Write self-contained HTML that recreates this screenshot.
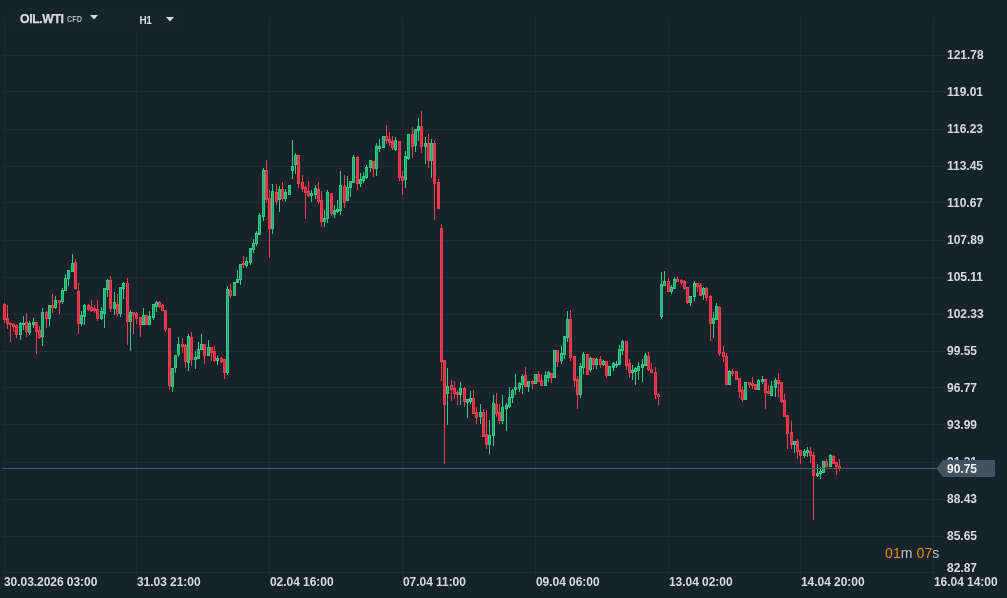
<!DOCTYPE html>
<html><head><meta charset="utf-8"><title>OIL.WTI</title>
<style>
html,body{margin:0;padding:0;background:#17232a;}
body{width:1007px;height:598px;overflow:hidden;position:relative;font-family:"Liberation Sans",sans-serif;}
svg{position:absolute;left:0;top:0;display:block}
.t{position:absolute;color:#d9dcde;font-weight:bold;font-size:12px;line-height:14px;white-space:nowrap;letter-spacing:-0.05px}
.p{left:947px;letter-spacing:0}
#L{position:absolute;left:0;top:0;width:1007px;height:598px;will-change:transform;opacity:0.999}
</style></head><body>
<svg width="1007" height="598" viewBox="0 0 1007 598" shape-rendering="crispEdges">
<rect width="1007" height="598" fill="#17232a"/>
<g fill="#202c33"><rect x="2" y="55" width="943" height="1"/><rect x="2" y="91" width="943" height="1"/><rect x="2" y="129" width="943" height="1"/><rect x="2" y="166" width="943" height="1"/><rect x="2" y="202" width="943" height="1"/><rect x="2" y="240" width="943" height="1"/><rect x="2" y="277" width="943" height="1"/><rect x="2" y="314" width="943" height="1"/><rect x="2" y="351" width="943" height="1"/><rect x="2" y="387" width="943" height="1"/><rect x="2" y="424" width="943" height="1"/><rect x="2" y="462" width="943" height="1"/><rect x="2" y="499" width="943" height="1"/><rect x="2" y="536" width="943" height="1"/><rect x="4" y="18" width="1" height="558"/><rect x="136" y="18" width="1" height="558"/><rect x="269" y="18" width="1" height="558"/><rect x="402" y="18" width="1" height="558"/><rect x="535" y="18" width="1" height="558"/><rect x="668" y="18" width="1" height="558"/><rect x="800" y="18" width="1" height="558"/><rect x="933" y="18" width="1" height="558"/><rect x="2" y="572" width="937" height="1"/></g>
<rect x="8" y="8" width="177" height="24" fill="#18242b"/>
<g fill="#2eca86"><rect x="19" y="323" width="3" height="12"/><rect x="20" y="322" width="1" height="18"/><rect x="22" y="323" width="3" height="2"/><rect x="23" y="316" width="1" height="14"/><rect x="28" y="323" width="3" height="10"/><rect x="29" y="321" width="1" height="14"/><rect x="32" y="322" width="3" height="3"/><rect x="33" y="318" width="1" height="10"/><rect x="41" y="312" width="3" height="25"/><rect x="42" y="308" width="1" height="38"/><rect x="48" y="305" width="3" height="14"/><rect x="49" y="305" width="1" height="21"/><rect x="54" y="300" width="3" height="8"/><rect x="55" y="296" width="1" height="13"/><rect x="61" y="290" width="3" height="12"/><rect x="62" y="288" width="1" height="16"/><rect x="64" y="278" width="3" height="13"/><rect x="65" y="274" width="1" height="17"/><rect x="67" y="270" width="3" height="9"/><rect x="68" y="270" width="1" height="16"/><rect x="71" y="263" width="3" height="9"/><rect x="72" y="254" width="1" height="18"/><rect x="80" y="315" width="3" height="9"/><rect x="81" y="311" width="1" height="15"/><rect x="83" y="305" width="3" height="12"/><rect x="84" y="304" width="1" height="21"/><rect x="100" y="311" width="3" height="8"/><rect x="101" y="307" width="1" height="13"/><rect x="103" y="288" width="3" height="26"/><rect x="104" y="288" width="1" height="40"/><rect x="106" y="280" width="3" height="10"/><rect x="107" y="279" width="1" height="18"/><rect x="113" y="302" width="3" height="7"/><rect x="114" y="292" width="1" height="23"/><rect x="119" y="287" width="3" height="27"/><rect x="120" y="287" width="1" height="30"/><rect x="122" y="283" width="3" height="6"/><rect x="123" y="282" width="1" height="17"/><rect x="129" y="312" width="3" height="10"/><rect x="130" y="310" width="1" height="41"/><rect x="142" y="315" width="3" height="10"/><rect x="143" y="308" width="1" height="17"/><rect x="148" y="316" width="3" height="9"/><rect x="149" y="311" width="1" height="14"/><rect x="152" y="304" width="3" height="14"/><rect x="153" y="304" width="1" height="16"/><rect x="155" y="302" width="3" height="5"/><rect x="156" y="301" width="1" height="11"/><rect x="171" y="368" width="3" height="19"/><rect x="172" y="368" width="1" height="24"/><rect x="174" y="355" width="3" height="13"/><rect x="175" y="355" width="1" height="18"/><rect x="177" y="344" width="3" height="11"/><rect x="178" y="337" width="1" height="20"/><rect x="187" y="336" width="3" height="27"/><rect x="188" y="334" width="1" height="37"/><rect x="194" y="357" width="3" height="3"/><rect x="195" y="351" width="1" height="18"/><rect x="197" y="349" width="3" height="10"/><rect x="198" y="342" width="1" height="17"/><rect x="200" y="344" width="3" height="6"/><rect x="201" y="334" width="1" height="16"/><rect x="207" y="347" width="3" height="9"/><rect x="208" y="340" width="1" height="16"/><rect x="216" y="358" width="3" height="3"/><rect x="217" y="356" width="1" height="9"/><rect x="226" y="289" width="3" height="84"/><rect x="227" y="286" width="1" height="89"/><rect x="233" y="282" width="3" height="14"/><rect x="234" y="282" width="1" height="14"/><rect x="236" y="279" width="3" height="4"/><rect x="237" y="270" width="1" height="13"/><rect x="239" y="264" width="3" height="16"/><rect x="240" y="264" width="1" height="21"/><rect x="245" y="261" width="3" height="5"/><rect x="246" y="257" width="1" height="11"/><rect x="249" y="248" width="3" height="15"/><rect x="250" y="248" width="1" height="17"/><rect x="252" y="243" width="3" height="7"/><rect x="253" y="239" width="1" height="14"/><rect x="255" y="233" width="3" height="11"/><rect x="256" y="231" width="1" height="15"/><rect x="258" y="215" width="3" height="20"/><rect x="259" y="213" width="1" height="22"/><rect x="262" y="170" width="3" height="47"/><rect x="263" y="168" width="1" height="53"/><rect x="271" y="191" width="3" height="38"/><rect x="272" y="184" width="1" height="50"/><rect x="278" y="189" width="3" height="11"/><rect x="279" y="186" width="1" height="26"/><rect x="284" y="192" width="3" height="7"/><rect x="285" y="189" width="1" height="13"/><rect x="288" y="185" width="3" height="10"/><rect x="289" y="185" width="1" height="10"/><rect x="291" y="166" width="3" height="5"/><rect x="292" y="140" width="1" height="39"/><rect x="294" y="155" width="3" height="10"/><rect x="295" y="153" width="1" height="21"/><rect x="310" y="193" width="3" height="3"/><rect x="311" y="190" width="1" height="12"/><rect x="314" y="188" width="3" height="7"/><rect x="315" y="185" width="1" height="14"/><rect x="323" y="218" width="3" height="4"/><rect x="324" y="210" width="1" height="17"/><rect x="326" y="192" width="3" height="27"/><rect x="327" y="190" width="1" height="33"/><rect x="333" y="210" width="3" height="5"/><rect x="334" y="205" width="1" height="13"/><rect x="336" y="209" width="3" height="3"/><rect x="337" y="200" width="1" height="13"/><rect x="339" y="185" width="3" height="26"/><rect x="340" y="171" width="1" height="44"/><rect x="346" y="187" width="3" height="14"/><rect x="347" y="176" width="1" height="25"/><rect x="349" y="181" width="3" height="7"/><rect x="350" y="181" width="1" height="16"/><rect x="352" y="157" width="3" height="26"/><rect x="353" y="155" width="1" height="28"/><rect x="359" y="179" width="3" height="5"/><rect x="360" y="173" width="1" height="14"/><rect x="362" y="176" width="3" height="5"/><rect x="363" y="172" width="1" height="11"/><rect x="365" y="167" width="3" height="11"/><rect x="366" y="165" width="1" height="14"/><rect x="369" y="160" width="3" height="8"/><rect x="370" y="160" width="1" height="12"/><rect x="375" y="146" width="3" height="23"/><rect x="376" y="143" width="1" height="33"/><rect x="378" y="146" width="3" height="3"/><rect x="379" y="139" width="1" height="13"/><rect x="382" y="136" width="3" height="12"/><rect x="383" y="136" width="1" height="12"/><rect x="394" y="140" width="3" height="10"/><rect x="395" y="137" width="1" height="14"/><rect x="404" y="156" width="3" height="24"/><rect x="405" y="151" width="1" height="37"/><rect x="407" y="134" width="3" height="25"/><rect x="408" y="134" width="1" height="26"/><rect x="414" y="129" width="3" height="17"/><rect x="415" y="129" width="1" height="23"/><rect x="417" y="126" width="3" height="5"/><rect x="418" y="118" width="1" height="23"/><rect x="424" y="143" width="3" height="4"/><rect x="425" y="137" width="1" height="27"/><rect x="430" y="143" width="3" height="18"/><rect x="431" y="139" width="1" height="39"/><rect x="446" y="386" width="3" height="8"/><rect x="447" y="368" width="1" height="57"/><rect x="459" y="388" width="3" height="7"/><rect x="460" y="382" width="1" height="23"/><rect x="466" y="399" width="3" height="4"/><rect x="467" y="399" width="1" height="19"/><rect x="469" y="398" width="3" height="4"/><rect x="470" y="391" width="1" height="13"/><rect x="479" y="412" width="3" height="5"/><rect x="480" y="404" width="1" height="20"/><rect x="488" y="435" width="3" height="10"/><rect x="489" y="420" width="1" height="34"/><rect x="492" y="403" width="3" height="33"/><rect x="493" y="395" width="1" height="51"/><rect x="501" y="407" width="3" height="14"/><rect x="502" y="395" width="1" height="29"/><rect x="505" y="405" width="3" height="4"/><rect x="506" y="403" width="1" height="28"/><rect x="508" y="397" width="3" height="10"/><rect x="509" y="387" width="1" height="21"/><rect x="511" y="390" width="3" height="8"/><rect x="512" y="389" width="1" height="14"/><rect x="514" y="387" width="3" height="3"/><rect x="515" y="374" width="1" height="21"/><rect x="518" y="383" width="3" height="6"/><rect x="519" y="382" width="1" height="10"/><rect x="521" y="376" width="3" height="9"/><rect x="522" y="374" width="1" height="20"/><rect x="527" y="381" width="3" height="6"/><rect x="528" y="381" width="1" height="11"/><rect x="534" y="374" width="3" height="10"/><rect x="535" y="374" width="1" height="10"/><rect x="544" y="375" width="3" height="11"/><rect x="545" y="371" width="1" height="15"/><rect x="547" y="372" width="3" height="6"/><rect x="548" y="371" width="1" height="11"/><rect x="553" y="350" width="3" height="28"/><rect x="554" y="350" width="1" height="28"/><rect x="560" y="353" width="3" height="8"/><rect x="561" y="346" width="1" height="18"/><rect x="563" y="336" width="3" height="19"/><rect x="564" y="336" width="1" height="23"/><rect x="566" y="319" width="3" height="19"/><rect x="567" y="311" width="1" height="31"/><rect x="579" y="366" width="3" height="29"/><rect x="580" y="363" width="1" height="35"/><rect x="582" y="354" width="3" height="14"/><rect x="583" y="352" width="1" height="22"/><rect x="589" y="358" width="3" height="12"/><rect x="590" y="357" width="1" height="15"/><rect x="595" y="359" width="3" height="6"/><rect x="596" y="358" width="1" height="11"/><rect x="602" y="361" width="3" height="4"/><rect x="603" y="360" width="1" height="6"/><rect x="608" y="366" width="3" height="10"/><rect x="609" y="366" width="1" height="10"/><rect x="612" y="363" width="3" height="5"/><rect x="613" y="362" width="1" height="9"/><rect x="615" y="364" width="3" height="2"/><rect x="616" y="361" width="1" height="7"/><rect x="618" y="349" width="3" height="16"/><rect x="619" y="345" width="1" height="20"/><rect x="621" y="341" width="3" height="10"/><rect x="622" y="340" width="1" height="15"/><rect x="631" y="370" width="3" height="3"/><rect x="632" y="365" width="1" height="15"/><rect x="634" y="368" width="3" height="4"/><rect x="635" y="367" width="1" height="18"/><rect x="637" y="366" width="3" height="5"/><rect x="638" y="362" width="1" height="18"/><rect x="641" y="364" width="3" height="4"/><rect x="642" y="359" width="1" height="23"/><rect x="644" y="355" width="3" height="11"/><rect x="645" y="353" width="1" height="13"/><rect x="660" y="284" width="3" height="33"/><rect x="661" y="272" width="1" height="47"/><rect x="663" y="281" width="3" height="5"/><rect x="664" y="271" width="1" height="15"/><rect x="670" y="287" width="3" height="5"/><rect x="671" y="285" width="1" height="9"/><rect x="673" y="279" width="3" height="10"/><rect x="674" y="277" width="1" height="12"/><rect x="689" y="296" width="3" height="7"/><rect x="690" y="296" width="1" height="10"/><rect x="693" y="283" width="3" height="14"/><rect x="694" y="281" width="1" height="20"/><rect x="702" y="288" width="3" height="7"/><rect x="703" y="287" width="1" height="13"/><rect x="712" y="318" width="3" height="6"/><rect x="713" y="312" width="1" height="26"/><rect x="715" y="306" width="3" height="14"/><rect x="716" y="303" width="1" height="17"/><rect x="728" y="371" width="3" height="14"/><rect x="729" y="370" width="1" height="15"/><rect x="744" y="382" width="3" height="18"/><rect x="745" y="382" width="1" height="18"/><rect x="757" y="380" width="3" height="10"/><rect x="758" y="379" width="1" height="11"/><rect x="761" y="379" width="3" height="3"/><rect x="762" y="376" width="1" height="8"/><rect x="770" y="386" width="3" height="10"/><rect x="771" y="381" width="1" height="15"/><rect x="774" y="380" width="3" height="8"/><rect x="775" y="378" width="1" height="19"/><rect x="793" y="441" width="3" height="4"/><rect x="794" y="441" width="1" height="12"/><rect x="803" y="451" width="3" height="5"/><rect x="804" y="449" width="1" height="9"/><rect x="806" y="450" width="3" height="3"/><rect x="807" y="447" width="1" height="10"/><rect x="816" y="473" width="3" height="3"/><rect x="817" y="464" width="1" height="13"/><rect x="819" y="471" width="3" height="3"/><rect x="820" y="467" width="1" height="12"/><rect x="822" y="461" width="3" height="12"/><rect x="823" y="461" width="1" height="12"/><rect x="829" y="455" width="3" height="12"/><rect x="830" y="454" width="1" height="13"/></g>
<g fill="#fb3a4e"><rect x="3" y="304" width="3" height="16"/><rect x="4" y="303" width="1" height="20"/><rect x="6" y="318" width="3" height="6"/><rect x="7" y="305" width="1" height="24"/><rect x="9" y="323" width="3" height="2"/><rect x="10" y="322" width="1" height="20"/><rect x="12" y="324" width="3" height="3"/><rect x="13" y="323" width="1" height="9"/><rect x="15" y="325" width="3" height="10"/><rect x="16" y="324" width="1" height="14"/><rect x="25" y="322" width="3" height="10"/><rect x="26" y="313" width="1" height="24"/><rect x="35" y="322" width="3" height="10"/><rect x="36" y="322" width="1" height="32"/><rect x="38" y="330" width="3" height="8"/><rect x="39" y="326" width="1" height="13"/><rect x="45" y="312" width="3" height="7"/><rect x="46" y="311" width="1" height="17"/><rect x="51" y="305" width="3" height="3"/><rect x="52" y="294" width="1" height="19"/><rect x="58" y="300" width="3" height="3"/><rect x="59" y="300" width="1" height="14"/><rect x="74" y="262" width="3" height="27"/><rect x="75" y="259" width="1" height="31"/><rect x="77" y="291" width="3" height="33"/><rect x="78" y="283" width="1" height="51"/><rect x="87" y="305" width="3" height="5"/><rect x="88" y="304" width="1" height="7"/><rect x="90" y="307" width="3" height="4"/><rect x="91" y="300" width="1" height="12"/><rect x="93" y="308" width="3" height="3"/><rect x="94" y="305" width="1" height="8"/><rect x="96" y="309" width="3" height="10"/><rect x="97" y="300" width="1" height="21"/><rect x="109" y="280" width="3" height="29"/><rect x="110" y="276" width="1" height="36"/><rect x="116" y="304" width="3" height="10"/><rect x="117" y="294" width="1" height="22"/><rect x="126" y="283" width="3" height="39"/><rect x="127" y="278" width="1" height="67"/><rect x="132" y="312" width="3" height="3"/><rect x="133" y="312" width="1" height="22"/><rect x="135" y="313" width="3" height="6"/><rect x="136" y="312" width="1" height="12"/><rect x="139" y="317" width="3" height="8"/><rect x="140" y="317" width="1" height="20"/><rect x="145" y="315" width="3" height="10"/><rect x="146" y="315" width="1" height="10"/><rect x="158" y="302" width="3" height="5"/><rect x="159" y="301" width="1" height="7"/><rect x="161" y="305" width="3" height="6"/><rect x="162" y="304" width="1" height="7"/><rect x="164" y="310" width="3" height="20"/><rect x="165" y="310" width="1" height="22"/><rect x="168" y="328" width="3" height="58"/><rect x="169" y="328" width="1" height="62"/><rect x="181" y="344" width="3" height="3"/><rect x="182" y="338" width="1" height="15"/><rect x="184" y="345" width="3" height="17"/><rect x="185" y="344" width="1" height="24"/><rect x="190" y="337" width="3" height="23"/><rect x="191" y="332" width="1" height="34"/><rect x="203" y="344" width="3" height="12"/><rect x="204" y="344" width="1" height="20"/><rect x="210" y="347" width="3" height="6"/><rect x="211" y="347" width="1" height="14"/><rect x="213" y="351" width="3" height="10"/><rect x="214" y="346" width="1" height="16"/><rect x="220" y="358" width="3" height="4"/><rect x="221" y="357" width="1" height="6"/><rect x="223" y="359" width="3" height="14"/><rect x="224" y="359" width="1" height="20"/><rect x="229" y="290" width="3" height="6"/><rect x="230" y="284" width="1" height="14"/><rect x="242" y="263" width="3" height="2"/><rect x="243" y="256" width="1" height="12"/><rect x="265" y="170" width="3" height="30"/><rect x="266" y="160" width="1" height="43"/><rect x="268" y="198" width="3" height="31"/><rect x="269" y="190" width="1" height="68"/><rect x="275" y="192" width="3" height="10"/><rect x="276" y="184" width="1" height="21"/><rect x="281" y="189" width="3" height="10"/><rect x="282" y="182" width="1" height="19"/><rect x="297" y="155" width="3" height="29"/><rect x="298" y="155" width="1" height="33"/><rect x="301" y="182" width="3" height="7"/><rect x="302" y="175" width="1" height="17"/><rect x="304" y="187" width="3" height="6"/><rect x="305" y="186" width="1" height="33"/><rect x="307" y="191" width="3" height="5"/><rect x="308" y="181" width="1" height="16"/><rect x="317" y="189" width="3" height="13"/><rect x="318" y="182" width="1" height="22"/><rect x="320" y="200" width="3" height="22"/><rect x="321" y="191" width="1" height="36"/><rect x="330" y="193" width="3" height="21"/><rect x="331" y="193" width="1" height="23"/><rect x="343" y="186" width="3" height="17"/><rect x="344" y="175" width="1" height="33"/><rect x="356" y="157" width="3" height="27"/><rect x="357" y="156" width="1" height="34"/><rect x="372" y="161" width="3" height="8"/><rect x="373" y="161" width="1" height="16"/><rect x="385" y="136" width="3" height="5"/><rect x="386" y="125" width="1" height="19"/><rect x="388" y="139" width="3" height="4"/><rect x="389" y="132" width="1" height="14"/><rect x="391" y="141" width="3" height="7"/><rect x="392" y="136" width="1" height="14"/><rect x="398" y="141" width="3" height="37"/><rect x="399" y="141" width="1" height="40"/><rect x="401" y="176" width="3" height="5"/><rect x="402" y="171" width="1" height="24"/><rect x="411" y="134" width="3" height="13"/><rect x="412" y="127" width="1" height="31"/><rect x="420" y="126" width="3" height="21"/><rect x="421" y="111" width="1" height="42"/><rect x="427" y="143" width="3" height="18"/><rect x="428" y="134" width="1" height="34"/><rect x="433" y="143" width="3" height="41"/><rect x="434" y="141" width="1" height="79"/><rect x="437" y="182" width="3" height="27"/><rect x="438" y="179" width="1" height="30"/><rect x="440" y="228" width="3" height="134"/><rect x="441" y="224" width="1" height="157"/><rect x="443" y="360" width="3" height="45"/><rect x="444" y="360" width="1" height="104"/><rect x="450" y="385" width="3" height="5"/><rect x="451" y="380" width="1" height="21"/><rect x="453" y="388" width="3" height="6"/><rect x="454" y="381" width="1" height="18"/><rect x="456" y="392" width="3" height="3"/><rect x="457" y="390" width="1" height="15"/><rect x="463" y="388" width="3" height="14"/><rect x="464" y="387" width="1" height="20"/><rect x="472" y="398" width="3" height="16"/><rect x="473" y="390" width="1" height="24"/><rect x="475" y="412" width="3" height="6"/><rect x="476" y="407" width="1" height="17"/><rect x="482" y="412" width="3" height="25"/><rect x="483" y="409" width="1" height="28"/><rect x="485" y="434" width="3" height="11"/><rect x="486" y="410" width="1" height="39"/><rect x="495" y="404" width="3" height="10"/><rect x="496" y="393" width="1" height="24"/><rect x="498" y="412" width="3" height="9"/><rect x="499" y="404" width="1" height="20"/><rect x="524" y="375" width="3" height="12"/><rect x="525" y="367" width="1" height="20"/><rect x="531" y="381" width="3" height="3"/><rect x="532" y="380" width="1" height="9"/><rect x="537" y="374" width="3" height="8"/><rect x="538" y="371" width="1" height="11"/><rect x="540" y="380" width="3" height="6"/><rect x="541" y="374" width="1" height="12"/><rect x="550" y="373" width="3" height="5"/><rect x="551" y="373" width="1" height="10"/><rect x="556" y="350" width="3" height="12"/><rect x="557" y="350" width="1" height="17"/><rect x="569" y="319" width="3" height="39"/><rect x="570" y="310" width="1" height="51"/><rect x="573" y="356" width="3" height="25"/><rect x="574" y="356" width="1" height="31"/><rect x="576" y="379" width="3" height="16"/><rect x="577" y="376" width="1" height="33"/><rect x="586" y="354" width="3" height="21"/><rect x="587" y="354" width="1" height="21"/><rect x="592" y="358" width="3" height="7"/><rect x="593" y="358" width="1" height="11"/><rect x="599" y="359" width="3" height="6"/><rect x="600" y="356" width="1" height="12"/><rect x="605" y="361" width="3" height="15"/><rect x="606" y="361" width="1" height="17"/><rect x="625" y="341" width="3" height="25"/><rect x="626" y="341" width="1" height="29"/><rect x="628" y="363" width="3" height="10"/><rect x="629" y="359" width="1" height="19"/><rect x="647" y="356" width="3" height="14"/><rect x="648" y="352" width="1" height="19"/><rect x="650" y="369" width="3" height="4"/><rect x="651" y="363" width="1" height="10"/><rect x="654" y="372" width="3" height="23"/><rect x="655" y="367" width="1" height="32"/><rect x="657" y="394" width="3" height="3"/><rect x="658" y="393" width="1" height="12"/><rect x="667" y="281" width="3" height="11"/><rect x="668" y="278" width="1" height="14"/><rect x="676" y="279" width="3" height="3"/><rect x="677" y="276" width="1" height="6"/><rect x="680" y="280" width="3" height="3"/><rect x="681" y="279" width="1" height="6"/><rect x="683" y="281" width="3" height="8"/><rect x="684" y="280" width="1" height="10"/><rect x="686" y="287" width="3" height="16"/><rect x="687" y="287" width="1" height="17"/><rect x="696" y="283" width="3" height="4"/><rect x="697" y="283" width="1" height="9"/><rect x="699" y="285" width="3" height="11"/><rect x="700" y="283" width="1" height="13"/><rect x="705" y="288" width="3" height="10"/><rect x="706" y="287" width="1" height="14"/><rect x="709" y="296" width="3" height="28"/><rect x="710" y="295" width="1" height="46"/><rect x="718" y="307" width="3" height="47"/><rect x="719" y="306" width="1" height="50"/><rect x="722" y="352" width="3" height="5"/><rect x="723" y="346" width="1" height="16"/><rect x="725" y="356" width="3" height="29"/><rect x="726" y="353" width="1" height="32"/><rect x="731" y="371" width="3" height="3"/><rect x="732" y="369" width="1" height="7"/><rect x="735" y="371" width="3" height="9"/><rect x="736" y="371" width="1" height="9"/><rect x="738" y="378" width="3" height="14"/><rect x="739" y="378" width="1" height="20"/><rect x="741" y="390" width="3" height="10"/><rect x="742" y="386" width="1" height="16"/><rect x="748" y="382" width="3" height="3"/><rect x="749" y="382" width="1" height="6"/><rect x="751" y="383" width="3" height="3"/><rect x="752" y="377" width="1" height="12"/><rect x="754" y="384" width="3" height="6"/><rect x="755" y="384" width="1" height="6"/><rect x="764" y="379" width="3" height="14"/><rect x="765" y="379" width="1" height="30"/><rect x="767" y="391" width="3" height="3"/><rect x="768" y="385" width="1" height="9"/><rect x="777" y="380" width="3" height="4"/><rect x="778" y="373" width="1" height="24"/><rect x="780" y="382" width="3" height="20"/><rect x="781" y="382" width="1" height="21"/><rect x="783" y="400" width="3" height="17"/><rect x="784" y="394" width="1" height="23"/><rect x="786" y="415" width="3" height="19"/><rect x="787" y="415" width="1" height="34"/><rect x="790" y="432" width="3" height="13"/><rect x="791" y="421" width="1" height="28"/><rect x="796" y="441" width="3" height="11"/><rect x="797" y="439" width="1" height="20"/><rect x="799" y="450" width="3" height="6"/><rect x="800" y="450" width="1" height="14"/><rect x="809" y="451" width="3" height="5"/><rect x="810" y="447" width="1" height="16"/><rect x="812" y="455" width="3" height="21"/><rect x="813" y="452" width="1" height="68"/><rect x="825" y="461" width="3" height="6"/><rect x="826" y="459" width="1" height="8"/><rect x="832" y="456" width="3" height="8"/><rect x="833" y="455" width="1" height="9"/><rect x="835" y="462" width="3" height="5"/><rect x="836" y="462" width="1" height="13"/><rect x="838" y="466" width="3" height="2"/><rect x="839" y="459" width="1" height="12"/></g>
<g fill="#25a56e"><rect x="20" y="324" width="1" height="10"/><rect x="29" y="324" width="1" height="8"/><rect x="33" y="323" width="1" height="1"/><rect x="42" y="313" width="1" height="23"/><rect x="49" y="306" width="1" height="12"/><rect x="55" y="301" width="1" height="6"/><rect x="62" y="291" width="1" height="10"/><rect x="65" y="279" width="1" height="11"/><rect x="68" y="271" width="1" height="7"/><rect x="72" y="264" width="1" height="7"/><rect x="81" y="316" width="1" height="7"/><rect x="84" y="306" width="1" height="10"/><rect x="101" y="312" width="1" height="6"/><rect x="104" y="289" width="1" height="24"/><rect x="107" y="281" width="1" height="8"/><rect x="114" y="303" width="1" height="5"/><rect x="120" y="288" width="1" height="25"/><rect x="123" y="284" width="1" height="4"/><rect x="130" y="313" width="1" height="8"/><rect x="143" y="316" width="1" height="8"/><rect x="149" y="317" width="1" height="7"/><rect x="153" y="305" width="1" height="12"/><rect x="156" y="303" width="1" height="3"/><rect x="172" y="369" width="1" height="17"/><rect x="175" y="356" width="1" height="11"/><rect x="178" y="345" width="1" height="9"/><rect x="188" y="337" width="1" height="25"/><rect x="195" y="358" width="1" height="1"/><rect x="198" y="350" width="1" height="8"/><rect x="201" y="345" width="1" height="4"/><rect x="208" y="348" width="1" height="7"/><rect x="217" y="359" width="1" height="1"/><rect x="227" y="290" width="1" height="82"/><rect x="234" y="283" width="1" height="12"/><rect x="237" y="280" width="1" height="2"/><rect x="240" y="265" width="1" height="14"/><rect x="246" y="262" width="1" height="3"/><rect x="250" y="249" width="1" height="13"/><rect x="253" y="244" width="1" height="5"/><rect x="256" y="234" width="1" height="9"/><rect x="259" y="216" width="1" height="18"/><rect x="263" y="171" width="1" height="45"/><rect x="272" y="192" width="1" height="36"/><rect x="279" y="190" width="1" height="9"/><rect x="285" y="193" width="1" height="5"/><rect x="289" y="186" width="1" height="8"/><rect x="292" y="167" width="1" height="3"/><rect x="295" y="156" width="1" height="8"/><rect x="311" y="194" width="1" height="1"/><rect x="315" y="189" width="1" height="5"/><rect x="324" y="219" width="1" height="2"/><rect x="327" y="193" width="1" height="25"/><rect x="334" y="211" width="1" height="3"/><rect x="337" y="210" width="1" height="1"/><rect x="340" y="186" width="1" height="24"/><rect x="347" y="188" width="1" height="12"/><rect x="350" y="182" width="1" height="5"/><rect x="353" y="158" width="1" height="24"/><rect x="360" y="180" width="1" height="3"/><rect x="363" y="177" width="1" height="3"/><rect x="366" y="168" width="1" height="9"/><rect x="370" y="161" width="1" height="6"/><rect x="376" y="147" width="1" height="21"/><rect x="379" y="147" width="1" height="1"/><rect x="383" y="137" width="1" height="10"/><rect x="395" y="141" width="1" height="8"/><rect x="405" y="157" width="1" height="22"/><rect x="408" y="135" width="1" height="23"/><rect x="415" y="130" width="1" height="15"/><rect x="418" y="127" width="1" height="3"/><rect x="425" y="144" width="1" height="2"/><rect x="431" y="144" width="1" height="16"/><rect x="447" y="387" width="1" height="6"/><rect x="460" y="389" width="1" height="5"/><rect x="467" y="400" width="1" height="2"/><rect x="470" y="399" width="1" height="2"/><rect x="480" y="413" width="1" height="3"/><rect x="489" y="436" width="1" height="8"/><rect x="493" y="404" width="1" height="31"/><rect x="502" y="408" width="1" height="12"/><rect x="506" y="406" width="1" height="2"/><rect x="509" y="398" width="1" height="8"/><rect x="512" y="391" width="1" height="6"/><rect x="515" y="388" width="1" height="1"/><rect x="519" y="384" width="1" height="4"/><rect x="522" y="377" width="1" height="7"/><rect x="528" y="382" width="1" height="4"/><rect x="535" y="375" width="1" height="8"/><rect x="545" y="376" width="1" height="9"/><rect x="548" y="373" width="1" height="4"/><rect x="554" y="351" width="1" height="26"/><rect x="561" y="354" width="1" height="6"/><rect x="564" y="337" width="1" height="17"/><rect x="567" y="320" width="1" height="17"/><rect x="580" y="367" width="1" height="27"/><rect x="583" y="355" width="1" height="12"/><rect x="590" y="359" width="1" height="10"/><rect x="596" y="360" width="1" height="4"/><rect x="603" y="362" width="1" height="2"/><rect x="609" y="367" width="1" height="8"/><rect x="613" y="364" width="1" height="3"/><rect x="619" y="350" width="1" height="14"/><rect x="622" y="342" width="1" height="8"/><rect x="632" y="371" width="1" height="1"/><rect x="635" y="369" width="1" height="2"/><rect x="638" y="367" width="1" height="3"/><rect x="642" y="365" width="1" height="2"/><rect x="645" y="356" width="1" height="9"/><rect x="661" y="285" width="1" height="31"/><rect x="664" y="282" width="1" height="3"/><rect x="671" y="288" width="1" height="3"/><rect x="674" y="280" width="1" height="8"/><rect x="690" y="297" width="1" height="5"/><rect x="694" y="284" width="1" height="12"/><rect x="703" y="289" width="1" height="5"/><rect x="713" y="319" width="1" height="4"/><rect x="716" y="307" width="1" height="12"/><rect x="729" y="372" width="1" height="12"/><rect x="745" y="383" width="1" height="16"/><rect x="758" y="381" width="1" height="8"/><rect x="762" y="380" width="1" height="1"/><rect x="771" y="387" width="1" height="8"/><rect x="775" y="381" width="1" height="6"/><rect x="794" y="442" width="1" height="2"/><rect x="804" y="452" width="1" height="3"/><rect x="807" y="451" width="1" height="1"/><rect x="817" y="474" width="1" height="1"/><rect x="820" y="472" width="1" height="1"/><rect x="823" y="462" width="1" height="10"/><rect x="830" y="456" width="1" height="10"/></g>
<g fill="#d33143"><rect x="4" y="305" width="1" height="14"/><rect x="7" y="319" width="1" height="4"/><rect x="13" y="325" width="1" height="1"/><rect x="16" y="326" width="1" height="8"/><rect x="26" y="323" width="1" height="8"/><rect x="36" y="323" width="1" height="8"/><rect x="39" y="331" width="1" height="6"/><rect x="46" y="313" width="1" height="5"/><rect x="52" y="306" width="1" height="1"/><rect x="59" y="301" width="1" height="1"/><rect x="75" y="263" width="1" height="25"/><rect x="78" y="292" width="1" height="31"/><rect x="88" y="306" width="1" height="3"/><rect x="91" y="308" width="1" height="2"/><rect x="94" y="309" width="1" height="1"/><rect x="97" y="310" width="1" height="8"/><rect x="110" y="281" width="1" height="27"/><rect x="117" y="305" width="1" height="8"/><rect x="127" y="284" width="1" height="37"/><rect x="133" y="313" width="1" height="1"/><rect x="136" y="314" width="1" height="4"/><rect x="140" y="318" width="1" height="6"/><rect x="146" y="316" width="1" height="8"/><rect x="159" y="303" width="1" height="3"/><rect x="162" y="306" width="1" height="4"/><rect x="165" y="311" width="1" height="18"/><rect x="169" y="329" width="1" height="56"/><rect x="182" y="345" width="1" height="1"/><rect x="185" y="346" width="1" height="15"/><rect x="191" y="338" width="1" height="21"/><rect x="204" y="345" width="1" height="10"/><rect x="211" y="348" width="1" height="4"/><rect x="214" y="352" width="1" height="8"/><rect x="221" y="359" width="1" height="2"/><rect x="224" y="360" width="1" height="12"/><rect x="230" y="291" width="1" height="4"/><rect x="266" y="171" width="1" height="28"/><rect x="269" y="199" width="1" height="29"/><rect x="276" y="193" width="1" height="8"/><rect x="282" y="190" width="1" height="8"/><rect x="298" y="156" width="1" height="27"/><rect x="302" y="183" width="1" height="5"/><rect x="305" y="188" width="1" height="4"/><rect x="308" y="192" width="1" height="3"/><rect x="318" y="190" width="1" height="11"/><rect x="321" y="201" width="1" height="20"/><rect x="331" y="194" width="1" height="19"/><rect x="344" y="187" width="1" height="15"/><rect x="357" y="158" width="1" height="25"/><rect x="373" y="162" width="1" height="6"/><rect x="386" y="137" width="1" height="3"/><rect x="389" y="140" width="1" height="2"/><rect x="392" y="142" width="1" height="5"/><rect x="399" y="142" width="1" height="35"/><rect x="402" y="177" width="1" height="3"/><rect x="412" y="135" width="1" height="11"/><rect x="421" y="127" width="1" height="19"/><rect x="428" y="144" width="1" height="16"/><rect x="434" y="144" width="1" height="39"/><rect x="438" y="183" width="1" height="25"/><rect x="441" y="229" width="1" height="132"/><rect x="444" y="361" width="1" height="43"/><rect x="451" y="386" width="1" height="3"/><rect x="454" y="389" width="1" height="4"/><rect x="457" y="393" width="1" height="1"/><rect x="464" y="389" width="1" height="12"/><rect x="473" y="399" width="1" height="14"/><rect x="476" y="413" width="1" height="4"/><rect x="483" y="413" width="1" height="23"/><rect x="486" y="435" width="1" height="9"/><rect x="496" y="405" width="1" height="8"/><rect x="499" y="413" width="1" height="7"/><rect x="525" y="376" width="1" height="10"/><rect x="532" y="382" width="1" height="1"/><rect x="538" y="375" width="1" height="6"/><rect x="541" y="381" width="1" height="4"/><rect x="551" y="374" width="1" height="3"/><rect x="557" y="351" width="1" height="10"/><rect x="570" y="320" width="1" height="37"/><rect x="574" y="357" width="1" height="23"/><rect x="577" y="380" width="1" height="14"/><rect x="587" y="355" width="1" height="19"/><rect x="593" y="359" width="1" height="5"/><rect x="600" y="360" width="1" height="4"/><rect x="606" y="362" width="1" height="13"/><rect x="626" y="342" width="1" height="23"/><rect x="629" y="364" width="1" height="8"/><rect x="648" y="357" width="1" height="12"/><rect x="651" y="370" width="1" height="2"/><rect x="655" y="373" width="1" height="21"/><rect x="658" y="395" width="1" height="1"/><rect x="668" y="282" width="1" height="9"/><rect x="677" y="280" width="1" height="1"/><rect x="681" y="281" width="1" height="1"/><rect x="684" y="282" width="1" height="6"/><rect x="687" y="288" width="1" height="14"/><rect x="697" y="284" width="1" height="2"/><rect x="700" y="286" width="1" height="9"/><rect x="706" y="289" width="1" height="8"/><rect x="710" y="297" width="1" height="26"/><rect x="719" y="308" width="1" height="45"/><rect x="723" y="353" width="1" height="3"/><rect x="726" y="357" width="1" height="27"/><rect x="732" y="372" width="1" height="1"/><rect x="736" y="372" width="1" height="7"/><rect x="739" y="379" width="1" height="12"/><rect x="742" y="391" width="1" height="8"/><rect x="749" y="383" width="1" height="1"/><rect x="752" y="384" width="1" height="1"/><rect x="755" y="385" width="1" height="4"/><rect x="765" y="380" width="1" height="12"/><rect x="768" y="392" width="1" height="1"/><rect x="778" y="381" width="1" height="2"/><rect x="781" y="383" width="1" height="18"/><rect x="784" y="401" width="1" height="15"/><rect x="787" y="416" width="1" height="17"/><rect x="791" y="433" width="1" height="11"/><rect x="797" y="442" width="1" height="9"/><rect x="800" y="451" width="1" height="4"/><rect x="810" y="452" width="1" height="3"/><rect x="813" y="456" width="1" height="19"/><rect x="826" y="462" width="1" height="4"/><rect x="833" y="457" width="1" height="6"/><rect x="836" y="463" width="1" height="3"/></g>
<rect x="2" y="468" width="935" height="1" fill="#4a5b67"/>
<path d="M90 15 h8 l-4 4.5z" fill="#d9dcde" shape-rendering="auto"/><path d="M166 17 h8 l-4 4.5z" fill="#d9dcde" shape-rendering="auto"/>
</svg>
<div id="L"><div class="t p" style="top:48px">121.78</div><div class="t p" style="top:85px">119.01</div><div class="t p" style="top:122px">116.23</div><div class="t p" style="top:159px">113.45</div><div class="t p" style="top:196px">110.67</div><div class="t p" style="top:233px">107.89</div><div class="t p" style="top:270px">105.11</div><div class="t p" style="top:307px">102.33</div><div class="t p" style="top:344px">99.55</div><div class="t p" style="top:381px">96.77</div><div class="t p" style="top:418px">93.99</div><div class="t p" style="top:455px">91.21</div><div class="t p" style="top:492px">88.43</div><div class="t p" style="top:529px">85.65</div><div class="t p" style="top:561px">82.87</div><svg width="70" height="20" style="left:930px;top:458px"><path d="M6.5 10.5 L13 2 H65 V19 H13 Z" fill="#45545f"/></svg><div class="t p" style="top:462px;color:#f4f5f6">90.75</div><div class="t" style="left:4px;top:575px">30.03.2026 03:00</div><div class="t" style="left:137px;top:575px">31.03 21:00</div><div class="t" style="left:270px;top:575px">02.04 16:00</div><div class="t" style="left:403px;top:575px">07.04 11:00</div><div class="t" style="left:536px;top:575px">09.04 06:00</div><div class="t" style="left:669px;top:575px">13.04 02:00</div><div class="t" style="left:801px;top:575px">14.04 20:00</div><div class="t" style="left:934px;top:575px">16.04 14:00</div><div class="t" style="left:20px;top:12px;font-size:12.2px;letter-spacing:-0.35px;-webkit-text-stroke:0.25px #d9dcde">OIL.WTI</div><div class="t" style="left:67px;top:12px;font-size:8.4px;color:#b2b8bd;letter-spacing:0;transform:scaleX(0.87);transform-origin:0 0">CFD</div><div class="t" style="left:139.5px;top:13px;font-size:10px;line-height:15px;letter-spacing:-0.5px">H1</div><div class="t" style="left:885px;top:545px;font-size:14px;line-height:16px;font-weight:normal;color:#c0c5c9;letter-spacing:0.1px"><span style="color:#f08c00">01</span>m <span style="color:#f08c00">07</span>s</div></div>
</body></html>
